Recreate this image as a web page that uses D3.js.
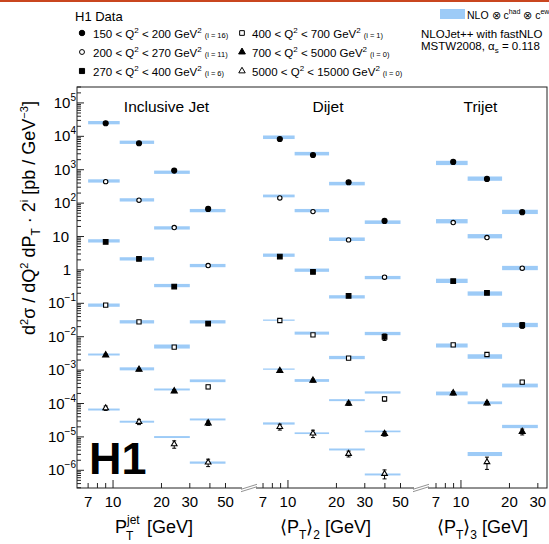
<!DOCTYPE html>
<html>
<head>
<meta charset="utf-8">
<script src="https://cdn.jsdelivr.net/npm/d3@7"></script>
<style>
  body { margin: 0; background: #fff; }
  text { font-family: "Liberation Sans", Arial, Helvetica, sans-serif; fill: #000; }
</style>
</head>
<body>
<svg id="chart" width="549" height="544"></svg>
<script>
// ---- data (values as plotted, i.e. already multiplied by 2^i) ----
var panelNames = ["Inclusive Jet", "Dijet", "Trijet"];
var q2Low = [150, 200, 270, 400, 700, 5000];
var q2High = [200, 270, 400, 700, 5000, 15000];
var scaleExp = [16, 11, 6, 1, 0, 0];
var binEdges = [[7, 11, 18, 30, 50], [7, 11, 18, 30, 50], [7, 11, 18, 30]];
var binCenters = [[9, 14.5, 24, 39], [8.9, 14.3, 23.8, 39.8], [8.95, 14.5, 24]];

var incData = [
    [24600, 6190, 940, 67],
    [440, 122, 18.5, 1.35],
    [6.9, 2.14, 0.318, 0.0248],
    [0.0881, 0.0279, 0.00488, 0.000316],
    [0.00281, 0.00104, 0.000235, 2.59e-5],
    [7.3e-5, 2.84e-5, 6.1e-6, 1.72e-6]
];
var incErr = [
    [0.05, 0.05, 0.06, 0.12],
    [0.05, 0.05, 0.06, 0.10],
    [0.05, 0.05, 0.06, 0.12],
    [0.06, 0.07, 0.08, 0.12],
    [0.08, 0.08, 0.10, 0.15],
    [0.15, 0.18, 0.25, 0.25]
];
var incNlo = [
    [25650, 6640, 841, 59.7],
    [461, 125, 18.1, 1.35],
    [7.4, 2.14, 0.34, 0.0279],
    [0.0881, 0.0279, 0.00508, 0.000479],
    [0.00293, 0.00109, 0.000263, 3.33e-5],
    [6.6e-5, 2.85e-5, 9.9e-6, 1.7e-6]
];
var incNloUnc = [
    [0.12, 0.12, 0.12, 0.12],
    [0.12, 0.12, 0.12, 0.12],
    [0.12, 0.12, 0.12, 0.12],
    [0.12, 0.12, 0.15, 0.10],
    [0.07, 0.11, 0.07, 0.07],
    [0.07, 0.07, 0.07, 0.08]
];

var djData = [
    [8340, 2770, 422, 29.3],
    [143, 55.7, 7.93, 0.607],
    [2.51, 0.873, 0.167, 0.0099],
    [0.0305, 0.01138, 0.00229, 0.000138],
    [0.000953, 0.000489, 0.0001, 1.24e-5],
    [2.0e-5, 1.27e-5, 3.13e-6, 7.9e-7]
];
var djErr = [
    [0.05, 0.05, 0.06, 0.10],
    [0.06, 0.06, 0.07, 0.10],
    [0.06, 0.06, 0.08, 0.22],
    [0.08, 0.08, 0.10, 0.15],
    [0.10, 0.10, 0.12, 0.15],
    [0.20, 0.25, 0.20, 0.30]
];
var djNlo = [
    [9380, 3030, 384, 26.9],
    [164, 59.7, 8.3, 0.59],
    [2.76, 0.982, 0.156, 0.01245],
    [0.0313, 0.0128, 0.00238, 0.000214],
    [0.00107, 0.000489, 0.000126, 1.46e-5],
    [2.52e-5, 1.29e-5, 4.2e-6, 7.5e-7]
];
var djNloUnc = [
    [0.13, 0.13, 0.13, 0.13],
    [0.10, 0.12, 0.13, 0.12],
    [0.12, 0.12, 0.12, 0.12],
    [0.045, 0.11, 0.12, 0.08],
    [0.045, 0.10, 0.07, 0.06],
    [0.08, 0.06, 0.07, 0.07]
];

var tjData = [
    [1710, 530, 53.5],
    [26.1, 9.29, 1.13],
    [0.46, 0.206, 0.0222],
    [0.00571, 0.00293, 0.000438],
    [0.000205, 0.000103, 1.43e-5],
    [null, 1.77e-6, null]
];
var tjErr = [
    [0.06, 0.06, 0.08],
    [0.07, 0.08, 0.10],
    [0.08, 0.10, 0.20],
    [0.10, 0.10, 0.12],
    [0.12, 0.12, 0.20],
    [null, 0.40, null]
];
var tjNlo = [
    [1596, 541, 54.6],
    [28.7, 10.2, 1.14],
    [0.47, 0.196, 0.0224],
    [0.00545, 0.00255, 0.000346],
    [0.0002, 0.000105, 2.05e-5],
    [null, 3.07e-6, null]
];
var tjNloUnc = [
    [0.16, 0.16, 0.16],
    [0.16, 0.16, 0.16],
    [0.16, 0.16, 0.16],
    [0.15, 0.17, 0.14],
    [0.14, 0.10, 0.12],
    [null, 0.15, null]
];

var xTickValues = [7, 8, 9, 10, 20, 30, 40, 50];
var xTickLabels = [7, 10, 20, 30, 50];
var yDecades = d3.range(-6, 6);

// ---- layout ----
var frame = { left: 77, right: 547, top: 87, bottom: 488 };
var panelRange = [[77, 250], [250, 422], [422, 547]];
var panelDomain = [[5.97, 71], [5.81, 68], [5.73, 34.2]];
var bandColor = "#9dcbf7";

var svg = d3.select("#chart");

var xs = panelRange.map(function (r, p) {
    return d3.scaleLog().domain(panelDomain[p]).range(r);
});
var y = d3.scaleLog().domain([2.95e-7, 3e5]).range([frame.bottom, frame.top]);

var symbolTypes = [d3.symbolCircle, d3.symbolCircle, d3.symbolSquare, d3.symbolSquare, d3.symbolTriangle, d3.symbolTriangle];
var symbolSizes = [20, 15, 22, 18, 16, 14];
var symbolFill = ["#000", "#fff", "#000", "#fff", "#000", "#fff"];

// top slide stripe
svg.append("rect").attr("x", 0).attr("y", 0).attr("width", 549).attr("height", 2).attr("fill", "#c9461f");

// frame
svg.append("rect")
    .attr("x", frame.left).attr("y", frame.top)
    .attr("width", frame.right - frame.left).attr("height", frame.bottom - frame.top)
    .attr("fill", "none").attr("stroke", "#222").attr("stroke-width", 1);

// flatten the three panels into records
var sets = [
    { data: incData, err: incErr, nlo: incNlo, unc: incNloUnc },
    { data: djData, err: djErr, nlo: djNlo, unc: djNloUnc },
    { data: tjData, err: tjErr, nlo: tjNlo, unc: tjNloUnc }
];
var bands = [], points = [];
sets.forEach(function (s, p) {
    s.nlo.forEach(function (row, b) {
        row.forEach(function (v, k) {
            if (v == null) return;
            bands.push({ p: p, b: b, k: k, v: v, u: s.unc[b][k] });
        });
    });
    s.data.forEach(function (row, b) {
        row.forEach(function (v, k) {
            if (v == null) return;
            points.push({ p: p, b: b, k: k, v: v, e: s.err[b][k] });
        });
    });
});

// NLO bands
svg.append("g").selectAll("rect.band")
    .data(bands)
    .enter().append("rect")
    .attr("class", "band")
    .attr("x", function (d) { return xs[d.p](binEdges[d.p][d.k]); })
    .attr("width", function (d) { return xs[d.p](binEdges[d.p][d.k + 1]) - xs[d.p](binEdges[d.p][d.k]); })
    .attr("y", function (d) { return y(d.v * (1 + d.u)); })
    .attr("height", function (d) { return y(d.v / (1 + d.u)) - y(d.v * (1 + d.u)); })
    .attr("fill", bandColor);

// error bars
var eg = svg.append("g").attr("stroke", "#000").attr("stroke-width", 1);
points.forEach(function (d) {
    var cx = xs[d.p](binCenters[d.p][d.k]);
    var y1 = y(d.v * (1 + d.e)), y2 = y(d.v * (1 - d.e));
    eg.append("line").attr("x1", cx).attr("x2", cx).attr("y1", y1).attr("y2", y2);
    eg.append("line").attr("x1", cx - 2).attr("x2", cx + 2).attr("y1", y1).attr("y2", y1);
    eg.append("line").attr("x1", cx - 2).attr("x2", cx + 2).attr("y1", y2).attr("y2", y2);
});

// data markers
svg.append("g").selectAll("path.pt")
    .data(points)
    .enter().append("path")
    .attr("class", "pt")
    .attr("d", function (d) { return d3.symbol().type(symbolTypes[d.b]).size(symbolSizes[d.b])(); })
    .attr("transform", function (d) {
        return "translate(" + xs[d.p](binCenters[d.p][d.k]) + "," + y(d.v) + ")";
    })
    .attr("fill", function (d) { return symbolFill[d.b]; })
    .attr("stroke", "#000").attr("stroke-width", 1.1);

// y axis ticks (inside)
var yt = svg.append("g").attr("stroke", "#222").attr("stroke-width", 1);
d3.range(-7, 6).forEach(function (e) {
    for (var m = 1; m < 10; m++) {
        var v = m * Math.pow(10, e);
        if (v < y.domain()[0] || v > y.domain()[1]) continue;
        var len = m === 1 ? 7 : 4;
        yt.append("line").attr("x1", frame.left).attr("x2", frame.left + len)
            .attr("y1", y(v)).attr("y2", y(v));
    }
});

// y tick labels
yDecades.forEach(function (e) {
    var t = svg.append("text").attr("y", y(Math.pow(10, e)) + 5).attr("font-size", 15)
        .attr("text-anchor", "end");
    if (e === 0) {
        t.attr("x", 71).text("1");
    } else if (e === 1) {
        t.attr("x", 69).text("10");
    } else {
        t.attr("x", 76);
        t.append("tspan").text("10");
        t.append("tspan").attr("dy", -7).attr("font-size", 10).text(String(e).replace("-", "\u2212"));
    }
});

// x axis ticks and labels, per panel
xs.forEach(function (x, p) {
    var max = binEdges[p][binEdges[p].length - 1];
    var tg = svg.append("g").attr("stroke", "#222").attr("stroke-width", 1);
    xTickValues.filter(function (v) { return v <= max; }).forEach(function (v) {
        var len = v === 10 ? 8 : 5;
        tg.append("line").attr("x1", x(v)).attr("x2", x(v))
            .attr("y1", frame.bottom).attr("y2", frame.bottom - len);
    });
    xTickLabels.filter(function (v) { return v <= max; }).forEach(function (v) {
        svg.append("text").attr("x", x(v)).attr("y", 507).attr("font-size", 15)
            .attr("text-anchor", "middle").text(v);
    });
    svg.append("text").attr("x", d3.mean(panelRange[p]) + [3, -8, -4][p]).attr("y", 112)
        .attr("font-size", 15.5).attr("text-anchor", "middle").text(panelNames[p]);
});

// axis break marks
[250, 422].forEach(function (bx) {
    svg.append("rect").attr("x", bx - 8).attr("y", frame.bottom - 1.5).attr("width", 14).attr("height", 3).attr("fill", "#fff");
    [-1.2, 1.2].forEach(function (o) {
        svg.append("line").attr("x1", bx - 9).attr("y1", frame.bottom + 2.5 + o)
            .attr("x2", bx + 7).attr("y2", frame.bottom - 2.5 + o)
            .attr("stroke", "#777").attr("stroke-width", 0.8);
    });
});

// x axis titles
svg.append("text").attr("x", 115).attr("y", 533).attr("font-size", 18).text("P");
svg.append("text").attr("x", 127).attr("y", 524).attr("font-size", 12).text("jet");
svg.append("text").attr("x", 126).attr("y", 540).attr("font-size", 12).text("T");
svg.append("text").attr("x", 147).attr("y", 533).attr("font-size", 18).text("[GeV]");

function bracketTitle(x0, n) {
    var t = svg.append("text").attr("x", x0).attr("y", 533).attr("font-size", 18);
    t.append("tspan").text("\u27E8P");
    t.append("tspan").attr("dy", 6).attr("font-size", 12).text("T");
    t.append("tspan").attr("dy", -6).text("\u27E9");
    t.append("tspan").attr("dy", 6).attr("font-size", 12).text(n);
    t.append("tspan").attr("dy", -6).text(" [GeV]");
}
bracketTitle(280, "2");
bracketTitle(437, "3");

// y axis title
var yl = svg.append("text").attr("transform", "translate(35,218) rotate(-90)")
    .attr("text-anchor", "middle").attr("font-size", 18);
[["d"], ["2", -7, 11], ["\u03C3 / dQ", 7], ["2", -7, 11], [" dP", 7], ["T", 5, 12], ["   \u00B7 2", -5], ["i", -7, 11],
 [" [pb / GeV", 7], ["\u22123", -7, 11], ["]", 7]].forEach(function (q) {
    var s = yl.append("tspan").text(q[0]);
    if (q[1]) s.attr("dy", q[1]);
    if (q[2]) s.attr("font-size", q[2]);
});

// H1 logo
svg.append("text").attr("x", 89).attr("y", 474).attr("font-size", 45)
    .attr("font-weight", "bold").text("H1");

// legend: data
svg.append("text").attr("x", 75).attr("y", 21).attr("font-size", 13).text("H1 Data");
var legX = [82, 242], legTextX = [93, 252], legY = [33, 52, 71];
q2Low.forEach(function (lo, b) {
    var col = Math.floor(b / 3), row = b % 3;
    svg.append("path")
        .attr("d", d3.symbol().type(symbolTypes[b]).size(symbolSizes[b] + 4)())
        .attr("transform", "translate(" + legX[col] + "," + legY[row] + ")")
        .attr("fill", symbolFill[b]).attr("stroke", "#000").attr("stroke-width", 1);
    var t = svg.append("text").attr("x", legTextX[col]).attr("y", legY[row] + 4.5).attr("font-size", 11.5);
    t.append("tspan").text(lo + " < Q");
    t.append("tspan").attr("dy", -5).attr("font-size", 8).text("2");
    t.append("tspan").attr("dy", 5).text(" < " + q2High[b] + " GeV");
    t.append("tspan").attr("dy", -5).attr("font-size", 8).text("2");
    t.append("tspan").attr("dy", 5).attr("dx", 3).attr("font-size", 7.5).text("(i = " + scaleExp[b] + ")");
});

// legend: theory
svg.append("rect").attr("x", 440).attr("y", 9).attr("width", 25).attr("height", 10).attr("fill", bandColor);
var nt = svg.append("text").attr("x", 467).attr("y", 19).attr("font-size", 10.5);
nt.append("tspan").text("NLO \u2297 c");
nt.append("tspan").attr("dy", -5).attr("font-size", 7).text("had");
nt.append("tspan").attr("dy", 5).text(" \u2297 c");
nt.append("tspan").attr("dy", -5).attr("font-size", 7).text("ew");
svg.append("text").attr("x", 421).attr("y", 38).attr("font-size", 11.5).text("NLOJet++ with fastNLO");
var ms = svg.append("text").attr("x", 421).attr("y", 50).attr("font-size", 11.5);
ms.append("tspan").text("MSTW2008, \u03B1");
ms.append("tspan").attr("dy", 3).attr("font-size", 8).text("s");
ms.append("tspan").attr("dy", -3).text(" = 0.118");
</script>
</body>
</html>
